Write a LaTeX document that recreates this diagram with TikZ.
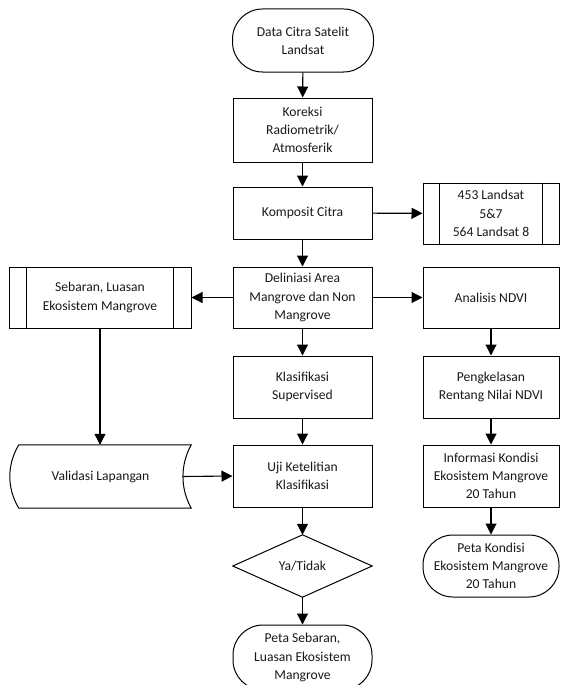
\documentclass[tikz,border=0pt]{standalone}
\usepackage{fontspec}
\setmainfont{Carlito}
\usetikzlibrary{arrows.meta}
\begin{document}
\begin{tikzpicture}[x=1pt,y=-1pt,
  base/.style={align=center, inner sep=0pt, font=\fontsize{13.6}{18.3}\selectfont, text=black!90},
  proc/.style={base, draw, line width=1pt},
  term/.style={base, draw, line width=1pt, rounded corners=30pt},
  ghost/.style={base},
  lnk/.style={line width=1.1pt, -{Triangle[length=11pt,width=11pt]}},
  edge/.style={line width=1pt}
]
\useasboundingbox (0,0) rectangle (561,685);

% main column
\node[term, minimum width=141pt, minimum height=63pt] (start) at (303,40.5) {Data Citra Satelit\\Landsat};
\node[proc, minimum width=139pt, minimum height=64pt] (kor) at (302.5,130) {Koreksi\\Radiometrik/\\Atmosferik};
\node[proc, minimum width=139pt, minimum height=52pt] (kom) at (302.5,213) {Komposit Citra};
\node[proc, minimum width=139pt, minimum height=61pt] (del) at (302.5,297.5) {Deliniasi Area\\Mangrove dan Non\\Mangrove};
\node[proc, minimum width=139pt, minimum height=62pt] (kla) at (302.5,387) {Klasifikasi\\Supervised};
\node[proc, minimum width=139pt, minimum height=62pt] (uji) at (302.5,476) {Uji Ketelitian\\Klasifikasi};
\node[ghost, minimum width=139pt, minimum height=62pt] (dia) at (302.5,566) {Ya/Tidak};
\draw[edge] (dia.west) -- (dia.north) -- (dia.east) -- (dia.south) -- cycle;
\node[term, minimum width=139pt, minimum height=65pt] (pts) at (302.5,657.5) {Peta Sebaran,\\Luasan Ekosistem\\Mangrove};

% right column
\node[proc, minimum width=136pt, minimum height=61pt] (lan) at (491,213.5) {453 Landsat\\5\&7\\564 Landsat 8};
\draw[edge] ([xshift=17pt]lan.north west) -- ([xshift=17pt]lan.south west);
\draw[edge] ([xshift=-17pt]lan.north east) -- ([xshift=-17pt]lan.south east);
\node[proc, minimum width=136pt, minimum height=61pt] (ana) at (491,297.5) {Analisis NDVI};
\node[proc, minimum width=136pt, minimum height=62pt] (pen) at (491,387) {Pengkelasan\\Rentang Nilai NDVI};
\node[proc, minimum width=136pt, minimum height=62pt] (inf) at (491,476) {Informasi Kondisi\\Ekosistem Mangrove\\20 Tahun};
\node[term, minimum width=136pt, minimum height=62pt] (pkd) at (491,566) {Peta Kondisi\\Ekosistem Mangrove\\20 Tahun};

% left column
\node[proc, minimum width=182pt, minimum height=61pt] (seb) at (100,297.5) {Sebaran, Luasan\\Ekosistem Mangrove};
\draw[edge] ([xshift=18pt]seb.north west) -- ([xshift=18pt]seb.south west);
\draw[edge] ([xshift=-18pt]seb.north east) -- ([xshift=-18pt]seb.south east);
\node[ghost, minimum width=181pt, minimum height=63pt] (val) at (100.5,476.5) {Validasi Lapangan};
\draw[edge] ([xshift=9pt]val.north west) -- (val.north east)
  .. controls ([xshift=-11pt,yshift=-20pt]val.north east) and ([xshift=-11pt,yshift=20pt]val.south east) .. (val.south east)
  -- ([xshift=9pt]val.south west)
  .. controls ([xshift=-3pt,yshift=20pt]val.south west) and ([xshift=-3pt,yshift=-20pt]val.north west) .. ([xshift=9pt]val.north west) -- cycle;

% connectors
\draw[lnk] (start) -- (kor);
\draw[lnk] (kor) -- (kom);
\draw[lnk] (kom) -- (del);
\draw[lnk] (kom) -- (lan);
\draw[lnk] (del) -- (ana);
\draw[lnk] (del) -- (seb);
\draw[lnk] (del) -- (kla);
\draw[lnk] (kla) -- (uji);
\draw[lnk] (uji) -- (dia);
\draw[lnk] (dia) -- (pts);
\draw[lnk] (ana) -- (pen);
\draw[lnk] (pen) -- (inf);
\draw[lnk] (inf) -- (pkd);
\draw[lnk] (seb.south) -- (seb.south |- val.north);
\draw[lnk] ([xshift=-8pt]val.east) -- (uji.west);
\end{tikzpicture}
\end{document}
